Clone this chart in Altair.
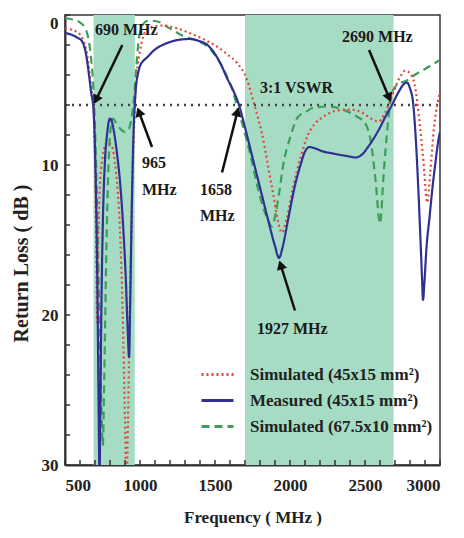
import math
import altair as alt
import pandas as pd

# ---------------- data ----------------
meas_f = [500, 540, 580, 610, 640, 660, 675, 690, 700, 710, 718, 725, 730, 735, 742, 752, 765, 780,
          800, 815, 830, 850, 870, 890, 905, 918, 927, 935, 945, 955, 965, 975, 985, 1000, 1050,
          1100, 1150, 1200, 1260, 1330, 1400, 1450, 1500, 1540, 1580, 1620, 1660, 1700, 1750,
          1800, 1850, 1900, 1927, 1950, 1990, 2030, 2070, 2100, 2130, 2170, 2220, 2270, 2320,
          2380, 2440, 2480, 2520, 2560, 2600, 2640, 2680, 2720, 2760, 2780, 2800, 2820, 2840,
          2855, 2870, 2880, 2887, 2895, 2910, 2930, 2950, 2970, 2990, 3000]
meas_db = [1.2, 1.3, 1.5, 1.7, 2.6, 4.0, 5.2, 6.3, 9.0, 14.0, 20.0, 27.0, 31.0, 27.0, 20.0, 14.0, 10.0, 8.0,
           6.9, 7.2, 8.0, 9.5, 11.5, 14.5, 17.5, 21.0, 22.8, 19.0, 13.0, 8.5, 6.0, 4.6, 4.0, 3.4, 2.8,
           2.3, 2.0, 1.8, 1.65, 1.6, 1.75, 2.0, 2.6, 3.3, 4.2, 5.0, 6.0, 7.5, 9.5,
           11.5, 13.5, 15.4, 16.2, 15.5, 13.5, 11.5, 10.0, 9.1, 8.8, 8.9, 9.1, 9.2, 9.3,
           9.4, 9.5, 9.3, 8.8, 8.2, 7.5, 6.7, 6.0, 5.2, 4.6, 4.5, 4.9, 5.8, 8.5,
           11.5, 15.0, 17.5, 19.0, 18.0, 15.5, 13.5, 11.5, 9.8, 8.3, 7.8]

sim1_f = [500, 550, 600, 630, 650, 665, 680, 690, 700, 708, 714, 720, 730, 750, 780, 810, 840, 865,
          885, 900, 910, 920, 935, 950, 965, 980, 1000, 1030, 1070, 1150, 1250, 1330, 1400, 1460,
          1513, 1580, 1647, 1713, 1760, 1813, 1880, 1947, 1980, 2020, 2070, 2120, 2170, 2220,
          2300, 2400, 2480, 2540, 2590, 2630, 2680, 2730, 2770, 2800, 2830, 2860, 2890, 2915,
          2935, 2960, 2985, 3000]
sim1_db = [0.9, 1.0, 1.3, 1.9, 2.8, 4.0, 5.3, 6.3, 9.5, 15.0, 20.5, 16.0, 12.0, 9.5, 8.5, 8.7, 10.5, 14.0,
           20.0, 27.0, 31.0, 27.0, 18.0, 11.0, 6.3, 3.8, 2.4, 1.2, 0.8, 0.7, 0.9, 1.2, 1.5, 1.8,
           2.1, 2.6, 3.2, 4.3, 5.9, 7.9, 11.5, 14.5, 13.5, 11.5, 9.5, 8.0, 7.2, 6.8,
           6.4, 6.3, 6.5, 6.9, 7.1, 6.6, 5.4, 4.2, 3.7, 3.9, 4.6, 6.8, 9.8, 12.5,
           10.5, 7.5, 5.8, 5.2]

sim2_f = [500, 550, 600, 640, 660, 675, 690, 700, 712, 725, 740, 752, 762, 775, 790, 805, 820, 840,
          870, 900, 925, 945, 960, 975, 990, 1010, 1050, 1100, 1200, 1300, 1350, 1400, 1450, 1487,
          1540, 1580, 1620, 1647, 1680, 1713, 1733, 1780, 1820, 1850, 1880, 1905, 1930, 1953,
          2000, 2053, 2100, 2150, 2250, 2350, 2450, 2500, 2540, 2570, 2600, 2625, 2650, 2680,
          2720, 2773, 2830, 2900, 2950, 3000]
sim2_db = [0.2, 0.3, 0.5, 1.0, 1.8, 3.0, 5.0, 7.5, 12.0, 18.0, 25.0, 28.7, 24.0, 16.0, 10.0, 7.5, 6.9, 7.2,
           7.6, 7.8, 7.6, 6.8, 5.5, 3.5, 1.8, 0.8, 0.4, 0.4, 0.9, 1.45, 1.6, 1.8, 2.1, 2.5,
           3.3, 4.1, 5.1, 6.1, 7.2, 8.4, 9.2, 11.3, 12.8, 13.6, 14.1, 13.2, 11.7, 10.1,
           8.2, 6.8, 6.5, 6.2, 6.1, 6.3, 6.8, 7.2, 8.5, 11.0, 13.9, 10.5, 7.5, 5.2,
           4.6, 4.4, 4.0, 3.6, 3.3, 3.0]

series_names = ["Simulated (45x15 mm²)", "Measured (45x15 mm²)", "Simulated (67.5x10 mm²)"]
series_colors = ["#e2483c", "#2e3192", "#3c9f58"]
series_dash = [[2, 3], [1, 0], [8, 5]]

band_start = [690, 1700]
band_end = [965, 2690]

vswr_db = [6]

x_labels = [500, 1000, 1500, 2000, 2500, 3000]
y_labels = [0, 10, 20, 30]
x_ticks = list(range(500, 3001, 100))
y_ticks = list(range(0, 31, 2))

ann_text = ["690 MHz", "965", "MHz", "1658", "MHz", "1927 MHz", "2690 MHz", "3:1 VSWR"]
ann_f = [700, 1013, 1013, 1400, 1400, 1780, 2347, 1800]
ann_db = [1.0, 9.87, 11.67, 11.67, 13.4, 20.9, 1.47, 4.87]

arrow_tail_f = [882, 1080, 1547, 2033, 2527]
arrow_tail_db = [2.0, 8.8, 10.5, 19.7, 2.33]
arrow_head_f = [700, 987, 1653, 1933, 2667]
arrow_head_db = [5.8, 6.3, 6.3, 16.5, 5.67]

# ---------------- layout ----------------
W, H = 375, 450
XMIN, XMAX, YMIN, YMAX = 500, 3000, 0, 30
px_x = W / (XMAX - XMIN)
px_y = H / (YMAX - YMIN)
FONT = "Liberation Serif"

xs = alt.Scale(domain=[XMIN, XMAX], nice=False, zero=False)
ys = alt.Scale(domain=[YMIN, YMAX], nice=False, reverse=True)

xa = alt.Axis(values=x_labels, format="d", title="Frequency ( MHz )", ticks=False, grid=False,
              labelFont=FONT, labelFontSize=17, labelFontWeight="bold", labelColor="#222",
              labelPadding=12, domainColor="#333", domainWidth=2,
              titleFont=FONT, titleFontSize=17, titleFontWeight="bold", titleColor="#222",
              titleBaseline="middle", titleY=52)
ya = alt.Axis(values=y_labels, format="d", title="Return Loss ( dB )", ticks=False, grid=False,
              labelFont=FONT, labelFontSize=17, labelFontWeight="bold", labelColor="#222",
              labelPadding=7, domainColor="#333", domainWidth=2,
              labelBaseline={"condition": {"test": "datum.value == 0", "value": "top"},
                             "value": "middle"},
              titleFont=FONT, titleFontSize=20, titleFontWeight="bold", titleColor="#222",
              titleX=-34, titleY=248, titleBaseline="bottom")


def X(field):
    return alt.X(field, scale=xs, axis=xa)


def Y(field):
    return alt.Y(field, scale=ys, axis=ya)


rows = []
for name, fs, ds in [(series_names[2], sim2_f, sim2_db),
                     (series_names[0], sim1_f, sim1_db),
                     (series_names[1], meas_f, meas_db)]:
    for f, d in zip(fs, ds):
        rows.append({"series": name, "f": f, "db": d})
lines_df = pd.DataFrame(rows)

bands_df = pd.DataFrame({"f1": band_start, "f2": band_end, "y1": [YMIN] * 2, "y2": [YMAX] * 2})

bands = alt.Chart(bands_df).mark_rect(color="#a6dcc4").encode(
    x=X("f1:Q"), x2="f2:Q", y=Y("y1:Q"), y2="y2:Q")

leg = alt.Legend(orient="none", legendX=135, legendY=342, title=None,
                 symbolType="stroke", symbolSize=1024, symbolStrokeWidth=3,
                 labelFont=FONT, labelFontSize=17, labelFontWeight="bold", labelLimit=0,
                 labelColor="#222", labelOffset=15, rowPadding=0)

lines = alt.Chart(lines_df).mark_line(interpolate="monotone", clip=True, strokeWidth=2.2).encode(
    x=X("f:Q"), y=Y("db:Q"),
    color=alt.Color("series:N", scale=alt.Scale(domain=series_names, range=series_colors), legend=leg),
    strokeDash=alt.StrokeDash("series:N", scale=alt.Scale(domain=series_names, range=series_dash),
                              legend=leg),
    detail="series:N",
)

vswr = alt.Chart(pd.DataFrame({"db": vswr_db})).mark_rule(
    color="#444", strokeWidth=2.5, strokeDash=[2, 5]).encode(
    y=Y("db:Q"), x=alt.value(0), x2=alt.value(W))

xt_df = pd.DataFrame({"f": x_ticks, "y1": [YMAX] * len(x_ticks), "y2": [YMAX - 5 / px_y] * len(x_ticks)})
xticks = alt.Chart(xt_df).mark_rule(color="#333", strokeWidth=1.5).encode(
    x=X("f:Q"), y=Y("y1:Q"), y2="y2:Q")
yt_df = pd.DataFrame({"d": y_ticks, "x1": [XMIN] * len(y_ticks), "x2": [XMIN + 5 / px_x] * len(y_ticks)})
yticks = alt.Chart(yt_df).mark_rule(color="#333", strokeWidth=1.5).encode(
    y=Y("d:Q"), x=X("x1:Q"), x2="x2:Q")

ann_df = pd.DataFrame({"t": ann_text, "f": ann_f, "db": ann_db})
ann = alt.Chart(ann_df).mark_text(font=FONT, fontSize=16, fontWeight="bold", color="#1a1a1a",
                                  align="left", baseline="middle").encode(
    x=X("f:Q"), y=Y("db:Q"), text="t:N")

ar = []
for tf, td, hf, hd in zip(arrow_tail_f, arrow_tail_db, arrow_head_f, arrow_head_db):
    dx = (hf - tf) * px_x
    dy = (hd - td) * px_y
    ln = math.hypot(dx, dy)
    ang = math.degrees(math.atan2(dx, -dy)) % 360
    back = 4.0
    ar.append({"tf": tf, "td": td, "hf": hf, "hd": hd, "ang": ang,
               "pf": hf - back * dx / ln / px_x, "pd": hd - back * dy / ln / px_y})
ar_df = pd.DataFrame(ar)

shafts = alt.Chart(ar_df).mark_rule(color="#111", strokeWidth=2.5).encode(
    x=X("tf:Q"), y=Y("td:Q"), x2="hf:Q", y2="hd:Q")
heads = alt.Chart(ar_df).mark_point(shape="triangle", filled=True, size=110, color="#111", opacity=1).encode(
    x=X("pf:Q"), y=Y("pd:Q"), angle=alt.Angle("ang:Q", scale=None))

chart = alt.layer(bands, vswr, lines, xticks, yticks, shafts, heads, ann).properties(
    width=W, height=H,
    autosize=alt.AutoSizeParams(type="none"),
    padding={"left": 57, "top": 7, "right": 16, "bottom": 66},
    background="white",
).configure_view(stroke="#333", strokeWidth=1.5)

chart.save("out.html", embed_options={"renderer": "svg", "actions": False})
